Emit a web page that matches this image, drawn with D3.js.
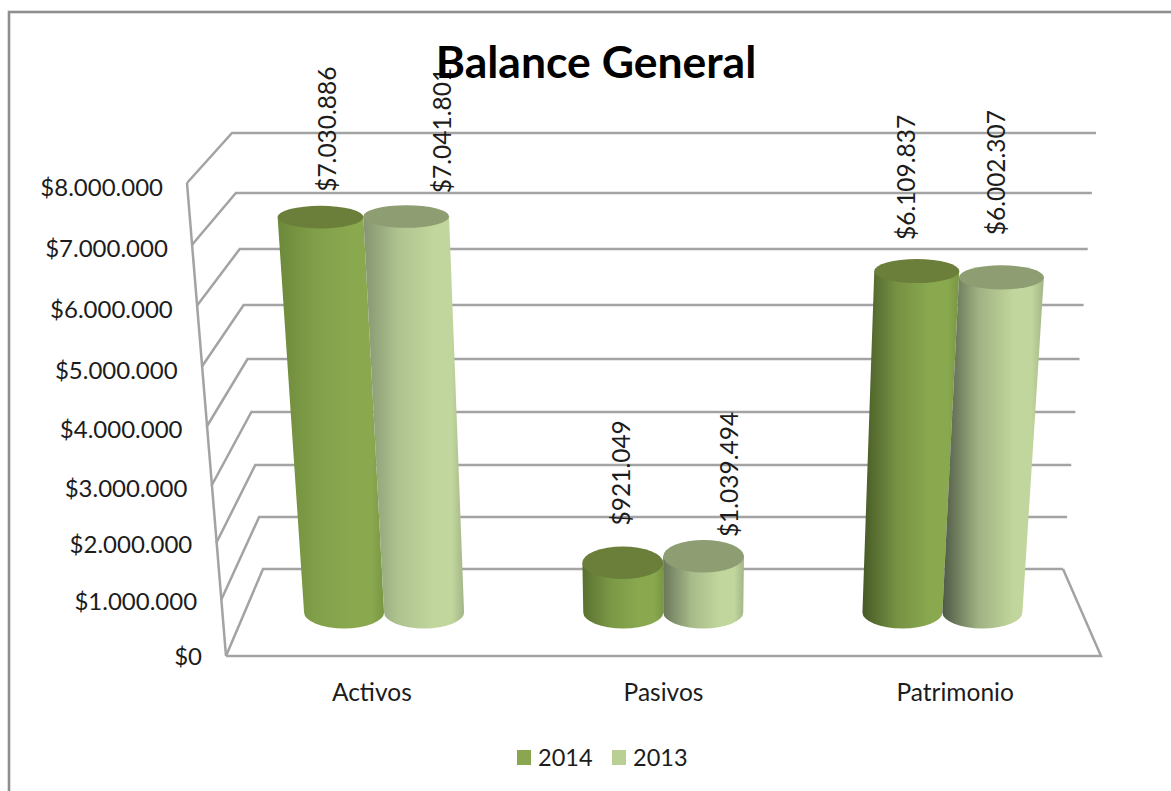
<!DOCTYPE html>
<html>
<head>
<meta charset="utf-8">
<script src="https://cdn.jsdelivr.net/npm/d3@7"></script>
<style>
  html, body { margin: 0; background: #fff; overflow: hidden; }
  svg { display: block; }
  text { font-family: Lato, "Open Sans", sans-serif; fill: #1c1c1c; }
</style>
</head>
<body>
<script>
const categories = ["Activos", "Pasivos", "Patrimonio"];
const seriesNames = ["2014", "2013"];
const values2014 = [7030886, 921049, 6109837];
const values2013 = [7041801, 1039494, 6002307];
const tickValues = [0, 1000000, 2000000, 3000000, 4000000, 5000000, 6000000, 7000000, 8000000];

// Hand-placed data label offsets from the top of each cylinder, by series then category.
const labelNudge2014 = [[7, -14], [-1, -21], [-10, -19]];
const labelNudge2013 = [[36, -12], [26, -3], [-5, -30]];

const width = 1171, height = 791;
const baseColors = ["#8aa94f", "#c1d69c"];
const capColors = ["#6b7f3b", "#8e9d72"];
const darkEdge = ["#3f5223", "#4c5744"];
const softEdge = ["#6d8a3b", "#8f9f79"];

const svg = d3.select("body").append("svg").attr("width", width).attr("height", height);
const defs = svg.append("defs");

// Outer chart frame: only the top and left edges fall inside the page
svg.append("rect").attr("x", 9).attr("y", 12).attr("width", 1300).attr("height", 900)
  .attr("fill", "#fff").attr("stroke", "#8e8e8e").attr("stroke-width", 2.6);

// The value axis is in perspective, so each plane has its own piecewise scale.
const frontY = d3.scaleLinear().domain(tickValues).range([656, 600, 543, 486, 427, 367, 306, 245, 183]);
const backY = d3.scaleLinear().domain(tickValues).range([569, 517, 465, 412, 359, 305, 249, 193, 133]);
const frontLeftX = d3.scaleLinear().domain([0, 8000000]).range([226, 187]);
const backLeftX = d3.scaleLinear().domain([0, 8000000]).range([263, 232]);
const frontRightX = d3.scaleLinear().domain([0, 8000000]).range([1101, 1135]);
const backRightX = d3.scaleLinear().domain([0, 8000000]).range([1063, 1096]);

// Maps a category fraction (0-1 across the floor), a value and a depth (0 front, 1 back) to the page.
function project(t, v, depth) {
  const y = frontY(v) + (backY(v) - frontY(v)) * depth;
  const l = frontLeftX(v) + (backLeftX(v) - frontLeftX(v)) * depth;
  const r = frontRightX(v) + (backRightX(v) - frontRightX(v)) * depth;
  return { x: l + (r - l) * t, y, span: r - l };
}

const band = d3.scaleBand().domain(categories).range([0, 1]).padding(0);
const inner = d3.scaleBand().domain(seriesNames).range([0, band.bandwidth()]).paddingOuter(0.745).paddingInner(0);

const grid = svg.append("g").attr("fill", "none").attr("stroke", "#a3a3a3").attr("stroke-width", 2.5);

// Back wall gridlines and side wall diagonals
tickValues.forEach(v => {
  grid.append("path").attr("d", d3.line()([
    [frontLeftX(v), frontY(v)], [backLeftX(v), backY(v)], [backRightX(v), backY(v)]
  ]));
});
// Vertical edge of the side wall
grid.append("line")
  .attr("x1", frontLeftX(0)).attr("y1", frontY(0))
  .attr("x2", frontLeftX(8000000)).attr("y2", frontY(8000000));
// Floor outline
grid.append("path").attr("d", d3.line()([
  [frontLeftX(0), frontY(0)], [frontRightX(0), frontY(0)], [backRightX(0), backY(0)]
]));

// Value axis labels follow the slanted front edge
svg.append("g").selectAll("text").data(tickValues).join("text")
  .attr("x", v => frontLeftX(v) - 24)
  .attr("y", v => frontY(v) + 1 + 3.5 * v / 8000000)
  .attr("dy", "0.35em")
  .attr("text-anchor", "end")
  .attr("font-size", 24)
  .text(v => "$" + d3.format(",")(v).replace(/,/g, "."));

// Category labels under the floor
svg.append("g").selectAll("text").data(categories).join("text")
  .attr("x", c => frontLeftX(0) + (frontRightX(0) - frontLeftX(0)) * (band(c) + band.bandwidth() / 2))
  .attr("y", 692).attr("dy", "0.35em")
  .attr("text-anchor", "middle").attr("font-size", 24.5)
  .text(c => c);

const series = [values2014, values2013];
const nudges = [labelNudge2014, labelNudge2013];
const bars = [];
categories.forEach((c, ci) => {
  seriesNames.forEach((s, si) => {
    bars.push({
      c, ci, s, si,
      value: series[si][ci],
      t: band(c) + inner(s) + inner.bandwidth() / 2,
      halfT: inner.bandwidth() / 2,
      nudge: nudges[si][ci]
    });
  });
});

const depthMid = 0.5;

// Cylinder side shading darkens toward the right of the chart
bars.forEach((b, i) => {
  const lit = d3.interpolateRgb(softEdge[b.si], darkEdge[b.si])((b.t - 0.1) / 0.8);
  const g = defs.append("linearGradient").attr("id", "cyl" + i)
    .attr("x1", 0).attr("x2", 1).attr("y1", 0).attr("y2", 0);
  const stops = [
    [0, lit],
    [0.35, d3.interpolateRgb(lit, baseColors[b.si])(0.7)],
    [0.7, baseColors[b.si]],
    [0.88, baseColors[b.si]],
    [1, d3.interpolateRgb(baseColors[b.si], softEdge[b.si])(0.6)]
  ];
  stops.forEach(st => g.append("stop").attr("offset", st[0]).attr("stop-color", st[1]));
});

const cylinders = svg.append("g");
bars.forEach((b, i) => {
  const bot = project(b.t, 0, depthMid);
  const top = project(b.t, b.value, depthMid);
  const rxB = bot.span * b.halfT, rxT = top.span * b.halfT;
  const ryB = 16;
  const ryT = (frontY(b.value) - backY(b.value)) * 0.16 + 3;
  const g = cylinders.append("g");
  g.append("path")
    .attr("d", `M${top.x - rxT},${top.y} L${bot.x - rxB},${bot.y}
      A${rxB},${ryB} 0 0 0 ${bot.x + rxB},${bot.y}
      L${top.x + rxT},${top.y} Z`)
    .attr("fill", `url(#cyl${i})`);
  g.append("ellipse")
    .attr("cx", top.x).attr("cy", top.y).attr("rx", rxT).attr("ry", ryT)
    .attr("fill", capColors[b.si]);
  b.labelX = top.x + b.nudge[0];
  b.labelY = top.y - ryT + b.nudge[1];
});

// Rotated value labels above each cylinder
svg.append("g").selectAll("text").data(bars).join("text")
  .attr("transform", b => `translate(${b.labelX},${b.labelY}) rotate(-90)`)
  .attr("dy", "0.35em")
  .attr("font-size", 24.5)
  .text(b => "$" + d3.format(",")(b.value).replace(/,/g, "."));

// Title sits over the data labels
svg.append("text").attr("x", 596).attr("y", 62).attr("dy", "0.35em")
  .attr("text-anchor", "middle").attr("font-size", 44.5).attr("font-weight", 700)
  .style("fill", "#000").text("Balance General");

// Legend
const legendX = d3.scaleOrdinal().domain(seriesNames).range([517, 612]);
const legend = svg.append("g").selectAll("g").data(seriesNames).join("g")
  .attr("transform", s => `translate(${legendX(s)},750)`);
legend.append("rect").attr("width", 14).attr("height", 15)
  .attr("fill", (s, i) => ["#8aa64e", "#b9cf93"][i]);
legend.append("text").attr("x", 21).attr("y", 8).attr("dy", "0.35em")
  .attr("font-size", 23.5).text(s => s);
</script>
</body>
</html>
